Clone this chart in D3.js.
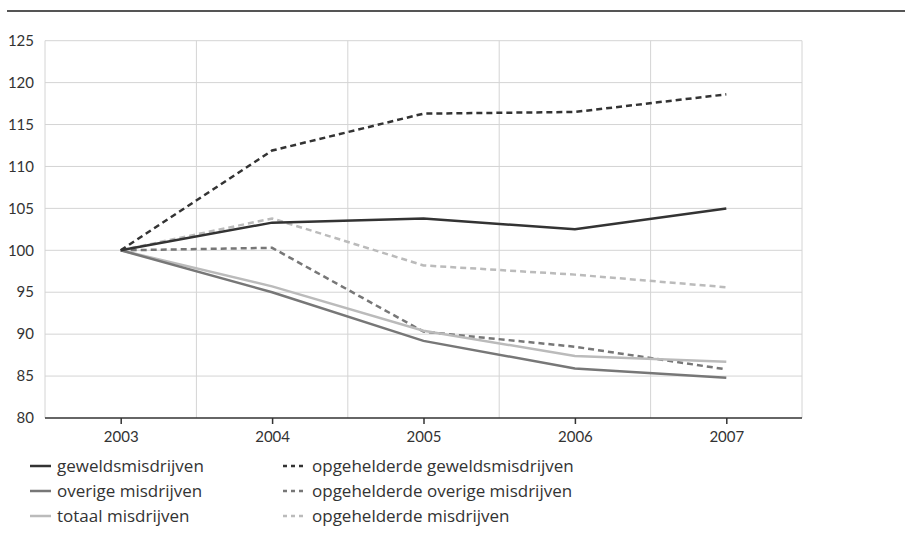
<!DOCTYPE html>
<html>
<head>
<meta charset="utf-8">
<script src="https://cdn.jsdelivr.net/npm/d3@7"></script>
<style>
  body { margin: 0; background: #fff; }
  text { font-family: Lato, "Open Sans", sans-serif; fill: #333; }
</style>
</head>
<body>
<svg width="905" height="554"></svg>
<script>
var years = [2003, 2004, 2005, 2006, 2007];
var yTicks = [80, 85, 90, 95, 100, 105, 110, 115, 120, 125];

// index 2003 = 100
var geweld = [100, 103.3, 103.8, 102.5, 105.0];
var overige = [100, 95.0, 89.2, 85.9, 84.8];
var totaal = [100, 95.7, 90.4, 87.4, 86.7];
var opgGeweld = [100, 111.9, 116.3, 116.5, 118.6];
var opgOverige = [100, 100.3, 90.3, 88.5, 85.8];
var opgTotaal = [100, 103.8, 98.2, 97.1, 95.6];

var seriesNames = ['geweldsmisdrijven', 'overige misdrijven', 'totaal misdrijven',
  'opgehelderde geweldsmisdrijven', 'opgehelderde overige misdrijven', 'opgehelderde misdrijven'];

var series = [
  { name: seriesNames[0], values: geweld, color: '#333', dash: null },
  { name: seriesNames[1], values: overige, color: '#777', dash: null },
  { name: seriesNames[2], values: totaal, color: '#bbb', dash: null },
  { name: seriesNames[3], values: opgGeweld, color: '#333', dash: '6,4' },
  { name: seriesNames[4], values: opgOverige, color: '#777', dash: '6,4' },
  { name: seriesNames[5], values: opgTotaal, color: '#bbb', dash: '6,4' }
];

var svg = d3.select('svg'),
    plotLeft = 45, plotRight = 802, plotTop = 40.7, plotBottom = 418;

var x = d3.scaleLinear().domain([2002.5, 2007.5]).range([plotLeft, plotRight]),
    y = d3.scaleLinear().domain([80, 125]).range([plotBottom, plotTop]);

// top rule
svg.append('line')
   .attr('x1', 7).attr('x2', 905).attr('y1', 11).attr('y2', 11)
   .attr('stroke', '#555').attr('stroke-width', 2);

// grid
var grid = svg.append('g').attr('class', 'grid');
grid.selectAll('line.h')
    .data(yTicks.slice(1))
    .enter().append('line')
    .attr('class', 'h')
    .attr('x1', plotLeft).attr('x2', plotRight)
    .attr('y1', function(d) { return y(d); })
    .attr('y2', function(d) { return y(d); })
    .attr('stroke', '#d4d4d4').attr('stroke-width', 1);

grid.selectAll('line.v')
    .data(d3.range(2002.5, 2008, 1))
    .enter().append('line')
    .attr('class', 'v')
    .attr('x1', function(d) { return x(d); })
    .attr('x2', function(d) { return x(d); })
    .attr('y1', plotTop).attr('y2', plotBottom)
    .attr('stroke', '#d4d4d4').attr('stroke-width', 1);

// y labels
svg.append('g')
   .selectAll('text')
   .data(yTicks)
   .enter().append('text')
   .attr('x', 34)
   .attr('y', function(d) { return y(d); })
   .attr('dy', '0.35em')
   .attr('text-anchor', 'end')
   .attr('font-size', 15)
   .text(function(d) { return d; });

// x axis
var xAxis = d3.axisBottom(x)
              .tickValues(years)
              .tickFormat(d3.format('d'))
              .tickSize(6)
              .tickPadding(7);

var gx = svg.append('g')
            .attr('transform', 'translate(0,' + plotBottom + ')')
            .call(xAxis);
gx.select('.domain').attr('stroke', '#333').attr('stroke-width', 1.5)
  .attr('d', 'M' + plotLeft + ',0H' + plotRight);
gx.selectAll('.tick line').attr('stroke', '#333').attr('stroke-width', 1.5);
gx.selectAll('.tick text').attr('font-size', 15).attr('fill', '#333')
  .style('font-family', 'Lato, "Open Sans", sans-serif');

// lines
var line = d3.line()
             .x(function(d, i) { return x(years[i]); })
             .y(function(d) { return y(d); });

svg.append('g')
   .selectAll('path')
   .data(series.slice().reverse())
   .enter().append('path')
   .attr('d', function(d) { return line(d.values); })
   .attr('fill', 'none')
   .attr('stroke', function(d) { return d.color; })
   .attr('stroke-width', 2.5)
   .attr('stroke-dasharray', function(d) { return d.dash; });

// legend
var legend = svg.append('g')
                .selectAll('g')
                .data(series)
                .enter().append('g')
                .attr('transform', function(d, i) {
                  var col = Math.floor(i / 3), row = i % 3;
                  return 'translate(' + (col ? 283 : 30) + ',' + (466 + row * 25) + ')';
                });

legend.append('line')
      .attr('x1', 0).attr('x2', 21).attr('y1', 0).attr('y2', 0)
      .attr('stroke', function(d) { return d.color; })
      .attr('stroke-width', 2.5)
      .attr('stroke-dasharray', function(d) { return d.dash ? '4,4' : null; });

legend.append('text')
      .attr('x', function(d) { return d.dash ? 29 : 27; })
      .attr('dy', '0.35em')
      .attr('font-size', 17)
      .style('font-family', '"Open Sans", sans-serif')
      .text(function(d) { return d.name; });
</script>
</body>
</html>
